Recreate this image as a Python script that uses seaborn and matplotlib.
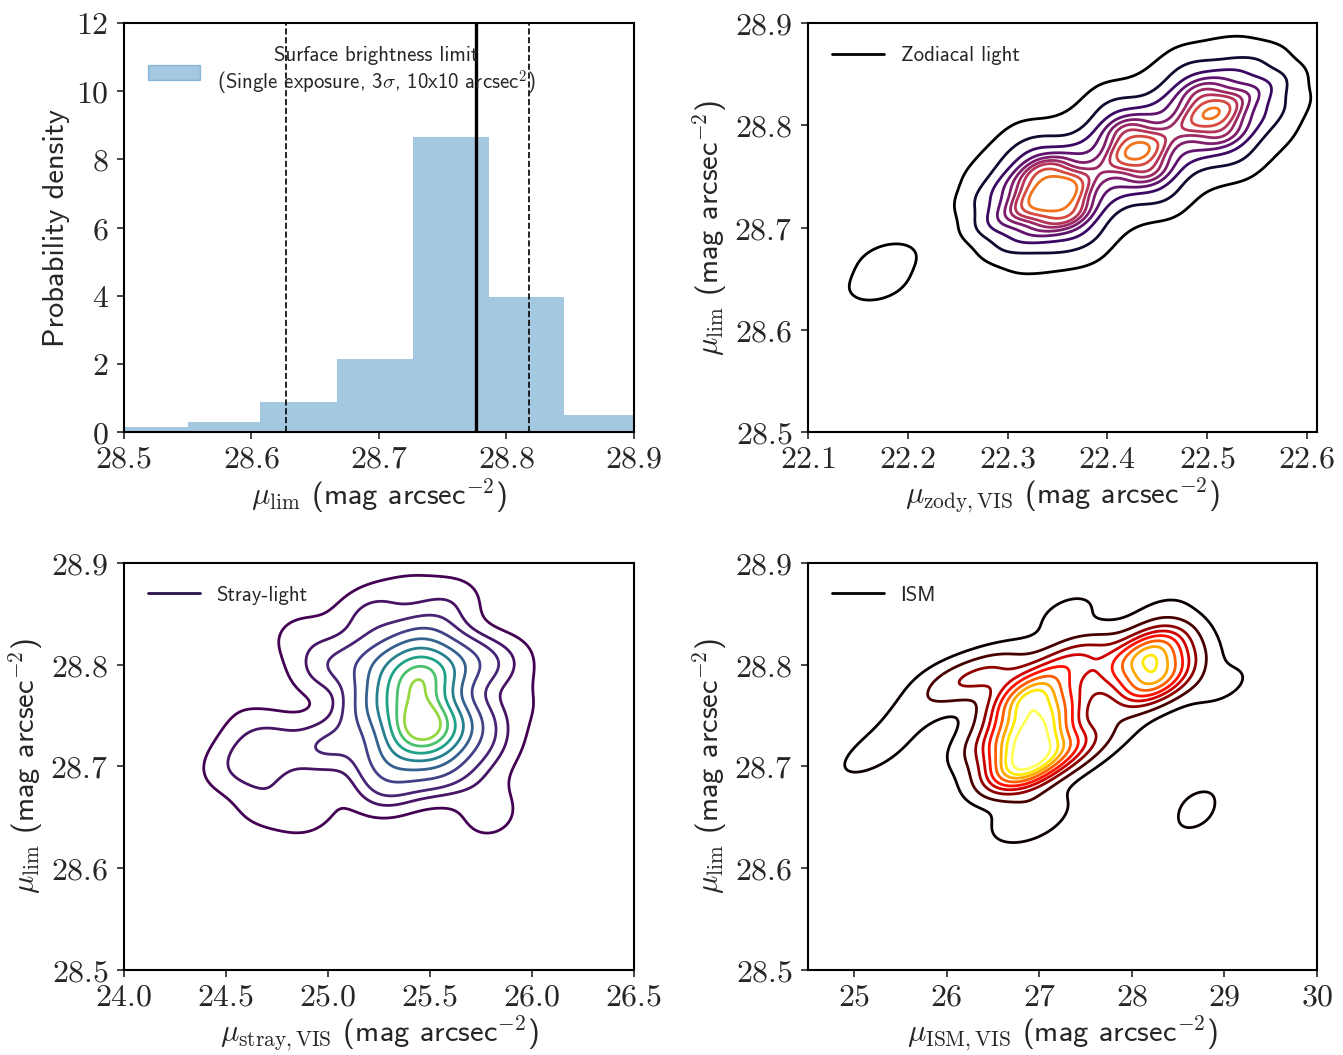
import numpy as np
import pandas as pd
import matplotlib
import matplotlib.pyplot as plt
from matplotlib.lines import Line2D
from matplotlib.ticker import FuncFormatter
import seaborn as sns

# Histogram of the surface brightness limit
hist_edges = [28.490, 28.550, 28.607, 28.667, 28.727, 28.786, 28.845, 28.904]
hist_heights = [0.15, 0.29, 0.88, 2.13, 8.65, 3.97, 0.49]
mu_median = 28.776
mu_low = 28.627
mu_high = 28.8175

# Zodiacal light: density read along the ridge of the contours and across it
zody_ridge_x = [22.290, 22.320, 22.350, 22.390, 22.430, 22.470, 22.505, 22.540, 22.570]
zody_ridge_y = [28.705, 28.720, 28.735, 28.755, 28.775, 28.795, 28.812, 28.830, 28.845]
zody_ridge_w = [0.20, 0.45, 1.00, 0.35, 0.85, 0.35, 0.75, 0.30, 0.10]
zody_across = [-0.075, -0.05, -0.025, 0.0, 0.025, 0.05, 0.075]
zody_across_w = [0.03, 0.15, 0.55, 1.0, 0.55, 0.15, 0.03]
# isolated clump plus the faint outliers (histogram tails) lying outside the view
zody_extra_x = [22.170, 22.180, 22.000, 22.040, 22.680, 22.650]
zody_extra_y = [28.645, 28.668, 28.930, 28.820, 28.520, 28.460]
zody_extra_w = [0.10, 0.10, 0.07, 0.06, 0.07, 0.06]

# Stray light: sample points (x, mu_lim, weight)
stray_x = [25.45, 25.45, 25.50,
           25.25, 25.25, 25.45, 25.65, 25.65, 25.55, 25.30,
           25.00, 25.00, 25.20, 25.60, 25.85, 25.80, 25.30, 24.85,
           24.50, 24.70, 24.90, 25.80, 25.75, 24.50, 25.40, 25.95,
           24.62, 24.75, 24.65]
stray_y = [28.785, 28.745, 28.730,
           28.760, 28.800, 28.820, 28.800, 28.740, 28.700, 28.710,
           28.720, 28.800, 28.850, 28.860, 28.800, 28.720, 28.680, 28.830,
           28.700, 28.665, 28.655, 28.650, 28.680, 28.780, 28.875, 28.760,
           28.735, 28.720, 28.700]
stray_w = [3.0, 3.0, 1.5,
           1.2, 1.0, 1.0, 0.9, 0.9, 0.8, 0.9,
           0.6, 0.5, 0.4, 0.3, 0.35, 0.3, 0.5, 0.2,
           0.2, 0.25, 0.25, 0.22, 0.15, 0.12, 0.15, 0.15,
           0.2, 0.3, 0.25]

# Interstellar medium
ism_x = [26.75, 26.80, 26.95, 27.15, 27.20, 26.85, 27.00, 26.70, 26.90,
         28.22, 28.22, 28.45, 28.00,
         27.50, 27.20, 26.55, 26.25, 25.95, 27.70,
         27.45, 26.90, 27.80, 26.40,
         25.30, 25.00, 25.60,
         27.30, 28.30,
         28.68, 28.72, 28.95]
ism_y = [28.700, 28.760, 28.775, 28.755, 28.715, 28.695, 28.735, 28.730, 28.718,
         28.815, 28.782, 28.800, 28.800,
         28.810, 28.800, 28.795, 28.785, 28.780, 28.790,
         28.720, 28.650, 28.740, 28.720,
         28.720, 28.700, 28.750,
         28.850, 28.850,
         28.645, 28.670, 28.780]
ism_w = [1.3, 1.4, 1.4, 1.2, 1.1, 1.2, 1.2, 1.1, 1.0,
         1.9, 1.9, 0.6, 0.6,
         0.7, 0.6, 0.55, 0.5, 0.35, 0.4,
         0.35, 0.5, 0.25, 0.3,
         0.2, 0.12, 0.2,
         0.25, 0.2,
         0.15, 0.15, 0.25]

sns.set_style('ticks')
plt.rcParams['font.family'] = ['cmss10', 'DejaVu Sans']
plt.rcParams['mathtext.fontset'] = 'cm'
plt.rcParams['axes.formatter.use_mathtext'] = True

fig = plt.figure(figsize=(13.43, 10.55), dpi=100)
ax1 = fig.add_axes([0.0923, 0.5905, 0.3797, 0.3877])
ax2 = fig.add_axes([0.6016, 0.5905, 0.3790, 0.3877])
ax3 = fig.add_axes([0.0923, 0.0806, 0.3797, 0.3858])
ax4 = fig.add_axes([0.6016, 0.0806, 0.3790, 0.3858])

ylab = r'$\mu_{\rm lim}$ (mag arcsec$^{-2}$)'
dec_fmt = FuncFormatter(lambda v, p: '$%.1f$' % v)
int_fmt = FuncFormatter(lambda v, p: '$%d$' % round(v))

# --- histogram ---
centers = [(a + b) / 2 for a, b in zip(hist_edges[:-1], hist_edges[1:])]
hist_df = pd.DataFrame({'mu': centers, 'h': hist_heights})
sns.histplot(data=hist_df, x='mu', weights='h', bins=hist_edges, stat='count',
             color='tab:blue', alpha=0.4, edgecolor='none', ax=ax1)
ax1.axvline(mu_median, color='black', lw=2.4)
ax1.axvline(mu_low, color='black', lw=1.2, ls='--')
ax1.axvline(mu_high, color='black', lw=1.2, ls='--')
ax1.set_xlim(28.5, 28.9)
ax1.set_ylim(0, 12)
ax1.set_xticks([28.5, 28.6, 28.7, 28.8, 28.9])
ax1.set_yticks([0, 2, 4, 6, 8, 10, 12])
ax1.xaxis.set_major_formatter(dec_fmt)
ax1.yaxis.set_major_formatter(int_fmt)
ax1.set_xlabel(ylab, fontsize=22, labelpad=2)
ax1.set_ylabel('Probability density', fontsize=22)
patch = matplotlib.patches.Patch(color='tab:blue', alpha=0.4)
leg = ax1.legend([patch], ['Surface brightness limit\n(Single exposure, 3$\\sigma$, 10x10 arcsec$^2$)'],
                 loc='upper left', frameon=False, fontsize=15, handlelength=2.5,
                 bbox_to_anchor=(0.01, 0.99))
for t in leg.get_texts():
    t.set_multialignment('center')


def kde_panel(ax, df, cmap, label, lcolor, xlim, xticks, xlab, xfmt, bw):
    sns.kdeplot(data=df, x='x', y='y', weights='w', levels=10, cmap=cmap,
                bw_method=bw, gridsize=250, linewidths=2, ax=ax)
    ax.set_xlim(*xlim)
    ax.set_ylim(28.5, 28.9)
    ax.set_xticks(xticks)
    ax.set_yticks([28.5, 28.6, 28.7, 28.8, 28.9])
    ax.xaxis.set_major_formatter(xfmt)
    ax.yaxis.set_major_formatter(dec_fmt)
    ax.set_xlabel(xlab, fontsize=22, labelpad=2)
    ax.set_ylabel(ylab, fontsize=22)
    h = Line2D([], [], color=lcolor, lw=2)
    ax.legend([h], [label], loc='upper left', frameon=False, fontsize=15,
              handlelength=2.5, bbox_to_anchor=(0.01, 0.99))


# zodiacal samples: ridge points shifted across the ridge (perpendicular direction)
perp = (-0.475, 0.88)
zrows = []
for rx, ry, rw in zip(zody_ridge_x, zody_ridge_y, zody_ridge_w):
    for d, dw in zip(zody_across, zody_across_w):
        zrows.append((rx + perp[0] * d, ry + perp[1] * d, rw * dw))
for ex, ey, ew in zip(zody_extra_x, zody_extra_y, zody_extra_w):
    zrows.append((ex, ey, ew))
zody_df = pd.DataFrame(zrows, columns=['x', 'y', 'w'])

kde_panel(ax2, zody_df, 'inferno', 'Zodiacal light', 'black',
          (22.1, 22.61), [22.1, 22.2, 22.3, 22.4, 22.5, 22.6],
          r'$\mu_{\rm zody,VIS}$ (mag arcsec$^{-2}$)', dec_fmt, 0.21)
kde_panel(ax3, pd.DataFrame({'x': stray_x, 'y': stray_y, 'w': stray_w}),
          'viridis', 'Stray-light', '#2a0f4a',
          (24.0, 26.5), [24.0, 24.5, 25.0, 25.5, 26.0, 26.5],
          r'$\mu_{\rm stray,VIS}$ (mag arcsec$^{-2}$)', dec_fmt, 0.42)
kde_panel(ax4, pd.DataFrame({'x': ism_x, 'y': ism_y, 'w': ism_w}),
          'hot', 'ISM', 'black',
          (24.5, 30.0), [25, 26, 27, 28, 29, 30],
          r'$\mu_{\rm ISM,VIS}$ (mag arcsec$^{-2}$)', int_fmt, 0.37)

for ax in [ax1, ax2, ax3, ax4]:
    ax.tick_params(labelsize=23, direction='out', length=5, width=1.2, pad=4,
                   top=False, right=False)
    ax.tick_params(axis='y', pad=6)
    for s in ax.spines.values():
        s.set_visible(True)
        s.set_color('black')
        s.set_linewidth(1.5)

fig.savefig('out.png', dpi=100)
